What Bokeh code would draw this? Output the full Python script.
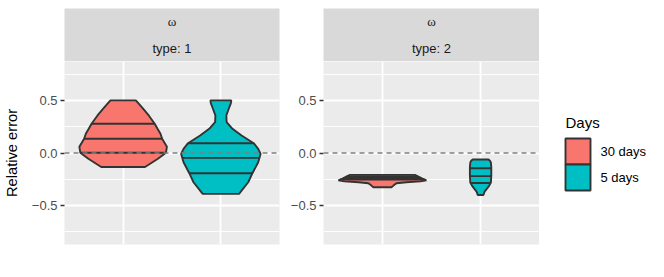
import numpy as np
from bokeh.plotting import figure
from bokeh.layouts import row, column
from bokeh.models import FixedTicker, CustomJSTickFormatter, Span, Range1d
from bokeh.core.properties import value
from bokeh.embed import file_html
from bokeh.resources import INLINE

# ---------------- data ----------------
facet_var = "ω"
types = ["type: 1", "type: 2"]
days = ["30 days", "5 days"]
legend_title = "Days"
colors = ["#F8766D", "#00BFC4"]
x_pos = [1, 2]
y_ticks = [-0.5, 0.0, 0.5]
y_minor = [-0.75, -0.25, 0.25, 0.75]

# violin outlines: y values and half-widths (in category units)
t1_30_y = [0.5, 0.421, 0.357, 0.278, 0.230, 0.183, 0.135, 0.06, 0.002, -0.055, -0.133]
t1_30_w = [0.130, 0.204, 0.262, 0.323, 0.352, 0.382, 0.399, 0.448, 0.438, 0.356, 0.224]
t1_30_q = [0.002, 0.135, 0.278]

t1_5_y = [0.5, 0.471, 0.421, 0.357, 0.293, 0.230, 0.167, 0.093, 0.040, -0.008, -0.088, -0.192, -0.278, -0.389]
t1_5_w = [0.107, 0.102, 0.081, 0.056, 0.059, 0.119, 0.212, 0.336, 0.382, 0.407, 0.382, 0.323, 0.280, 0.186]
t1_5_q = [-0.192, -0.046, 0.093]

t2_30_y = [-0.208, -0.224, -0.243, -0.260, -0.270, -0.278, -0.288, -0.31, -0.326]
t2_30_w = [0.331, 0.367, 0.407, 0.448, 0.387, 0.244, 0.143, 0.112, 0.092]
t2_30_q = [-0.252, -0.238, -0.222]

t2_5_y = [-0.062, -0.076, -0.09, -0.135, -0.214, -0.281, -0.31, -0.341, -0.367, -0.40]
t2_5_w = [0.081, 0.097, 0.105, 0.109, 0.109, 0.105, 0.088, 0.063, 0.041, 0.028]
t2_5_q = [-0.285, -0.22, -0.145]

violins = {
    0: [(t1_30_y, t1_30_w, t1_30_q), (t1_5_y, t1_5_w, t1_5_q)],
    1: [(t2_30_y, t2_30_w, t2_30_q), (t2_5_y, t2_5_w, t2_5_q)],
}

FONT = "Liberation Sans"
OUT = "#333333"
FRAME_W, FRAME_H = 216, 183
STRIP_H = 53
TOP = 8
BOTTOM = 25


def make_strip(label, left, right):
    s = figure(width=left + FRAME_W + right, height=STRIP_H + TOP, x_range=(0, 1), y_range=(0, 2),
               toolbar_location=None, output_backend="svg",
               x_axis_location=None, y_axis_location=None,
               min_border_left=left, min_border_right=right, min_border_top=TOP, min_border_bottom=0,
               background_fill_color="#D9D9D9", border_fill_color="white", outline_line_color=None)
    s.grid.visible = False
    s.text(x=[0.5], y=[1.5], text=[facet_var], text_align="center", text_baseline="middle",
           text_font=value("Liberation Serif"), text_font_size="13px", text_color="#1A1A1A")
    s.text(x=[0.5], y=[0.5], text=[label], text_align="center", text_baseline="middle",
           text_font=value(FONT), text_font_size="13px", text_color="#1A1A1A")
    return s


def make_panel(k, left, right, ylabel):
    p = figure(width=left + FRAME_W + right, height=FRAME_H + BOTTOM, x_range=(0.4, 2.6),
               y_range=(-0.87, 0.87),
               toolbar_location=None, output_backend="svg", x_axis_location=None,
               min_border_left=left, min_border_right=right, min_border_top=0, min_border_bottom=BOTTOM,
               background_fill_color="#EBEBEB", border_fill_color="white", outline_line_color=None)
    p.xgrid.ticker = FixedTicker(ticks=x_pos)
    p.grid.grid_line_color = "white"
    p.grid.grid_line_width = 1.8
    p.yaxis.ticker = FixedTicker(ticks=y_ticks, minor_ticks=y_minor)
    p.ygrid.minor_grid_line_color = "white"
    p.ygrid.minor_grid_line_width = 0.9
    p.yaxis.formatter = CustomJSTickFormatter(
        code="return (tick < 0 ? '\u2212' : '') + Math.abs(tick).toFixed(1);")
    p.yaxis.axis_line_color = None
    p.yaxis.minor_tick_line_color = None
    p.yaxis.major_tick_line_color = OUT
    p.yaxis.major_tick_line_width = 1.5
    p.yaxis.major_tick_out = 4
    p.yaxis.major_tick_in = 0
    p.yaxis.major_label_standoff = 3
    p.yaxis.major_label_text_font = FONT
    p.yaxis.major_label_text_font_size = "13px"
    p.yaxis.major_label_text_color = "#4D4D4D"
    if ylabel:
        p.yaxis.axis_label = ylabel
        p.yaxis.axis_label_text_font = FONT
        p.yaxis.axis_label_text_font_size = "14.7px"
        p.yaxis.axis_label_text_font_style = "normal"
        p.yaxis.axis_label_text_color = "black"
        p.yaxis.axis_label_standoff = 9

    for j, (vy, vw, vq) in enumerate(violins[k]):
        c = x_pos[j]
        vy = np.array(vy)
        vw = np.array(vw)
        xs = np.concatenate([c - vw, (c + vw)[::-1]])
        ys = np.concatenate([vy, vy[::-1]])
        p.patch(x=xs, y=ys, fill_color=colors[j], line_color=OUT, line_width=1.9)
        qw = np.interp(vq, vy[::-1], vw[::-1])
        p.segment(x0=c - qw, y0=vq, x1=c + qw, y1=vq, line_color=OUT, line_width=1.9)
    p.add_layout(Span(location=0, dimension="width", line_color="#7F7F7F",
                      line_width=1.5, line_dash="5 4"))
    return p


s1 = make_strip(types[0], 63, 5)
p1 = make_panel(0, 63, 5, "Relative error")
s2 = make_strip(types[1], 39, 0)
p2 = make_panel(1, 39, 0, None)

# legend panel (screen-like coordinates, y downward)
LW = 125
LH = TOP + STRIP_H + FRAME_H + BOTTOM
p3 = figure(width=LW, height=LH, x_range=Range1d(0, LW), y_range=Range1d(LH, 0),
            toolbar_location=None, output_backend="svg",
            x_axis_location=None, y_axis_location=None,
            min_border_left=0, min_border_right=0, min_border_top=0, min_border_bottom=0,
            background_fill_color="white", border_fill_color="white", outline_line_color=None)
p3.grid.visible = False
key_w, key_h = 25, 26
key_x0, key_y0 = 26, 138
key_cy = [key_y0 + key_h * (i + 0.5) for i in range(len(days))]
p3.rect(x=[key_x0 + key_w / 2] * len(days), y=key_cy, width=key_w, height=key_h,
        fill_color=colors, line_color=OUT, line_width=1.9)
p3.text(x=[key_x0 + key_w + 10] * len(days), y=key_cy, text=days, text_baseline="middle",
        text_align="left", text_font=value(FONT), text_font_size="13px", text_color="black")
p3.text(x=[key_x0], y=[key_y0 - 16], text=[legend_title], text_baseline="middle",
        text_align="left", text_font=value(FONT), text_font_size="15px", text_color="black")

layout = row(column(s1, p1), column(s2, p2), p3)

open("out.html", "w").write(file_html(layout, INLINE))
